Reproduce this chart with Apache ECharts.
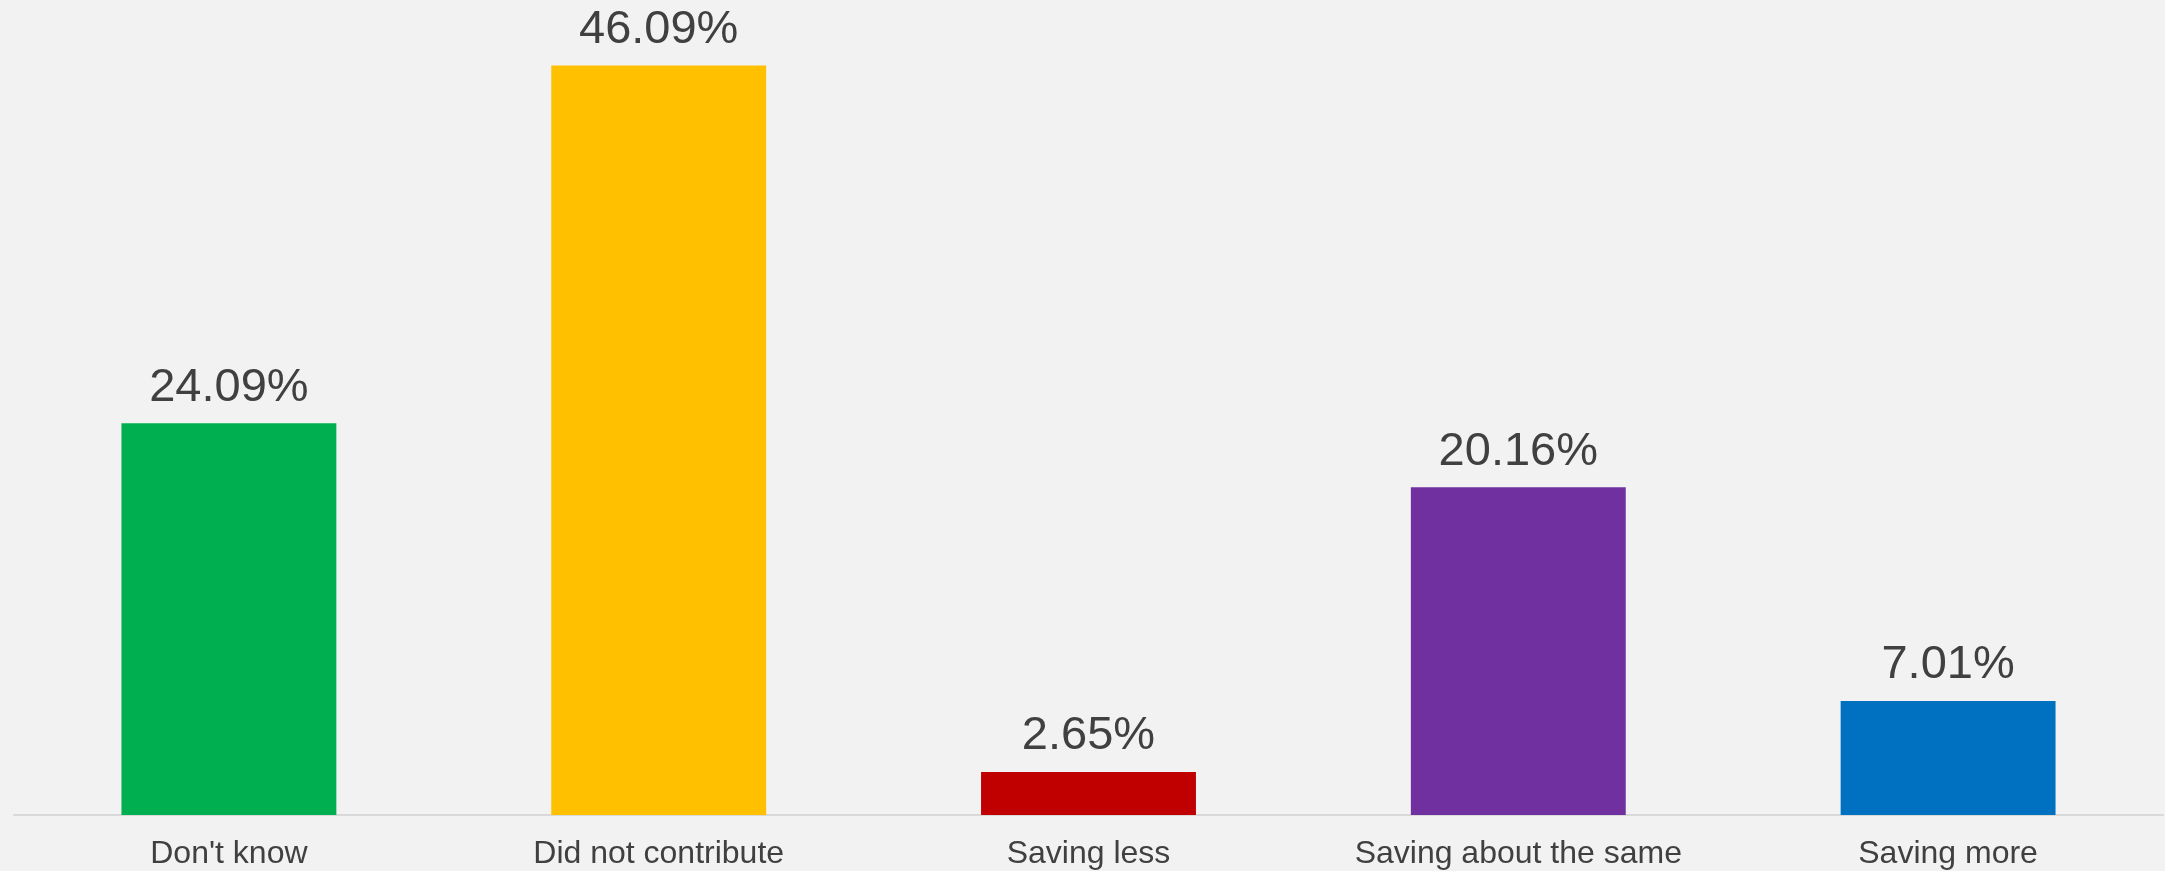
<!DOCTYPE html>
<html>
<head>
<meta charset="utf-8">
<script src="https://cdn.jsdelivr.net/npm/echarts@6/dist/echarts.min.js"></script>
<style>
  html, body { margin: 0; padding: 0; background: #F2F2F2; }
  #chart { width: 2165px; height: 871px; }
</style>
</head>
<body>
<div id="chart"></div>
<script>
// Survey responses: change in saving behaviour
const categories = ["Don't know", "Did not contribute", "Saving less", "Saving about the same", "Saving more"];
const shares = [24.09, 46.09, 2.65, 20.16, 7.01];
const barColors = ['#00B050', '#FFC000', '#C00000', '#7030A0', '#0070C0'];

const chart = echarts.init(document.getElementById('chart'));
chart.setOption({
  backgroundColor: '#F2F2F2',
  animation: false,
  grid: { left: 14, right: 2, top: 2, bottom: 56, containLabel: false },
  xAxis: {
    type: 'category',
    data: categories,
    axisTick: { show: false },
    axisLine: { lineStyle: { color: '#D9D9D9', width: 2 } },
    axisLabel: {
      color: '#404040',
      fontFamily: 'Liberation Sans, Arial, sans-serif',
      fontSize: 32,
      margin: 23
    }
  },
  yAxis: {
    type: 'value',
    min: 0,
    max: 50,
    show: false,
    splitLine: { show: false }
  },
  series: [{
    type: 'bar',
    barWidth: '50%',
    data: shares.map((v, i) => ({ value: v, itemStyle: { color: barColors[i] } })),
    label: {
      show: true,
      position: 'top',
      distance: 12,
      color: '#404040',
      fontFamily: 'Liberation Sans, Arial, sans-serif',
      fontSize: 47,
      formatter: p => p.value.toFixed(2) + '%'
    }
  }]
});
</script>
</body>
</html>
